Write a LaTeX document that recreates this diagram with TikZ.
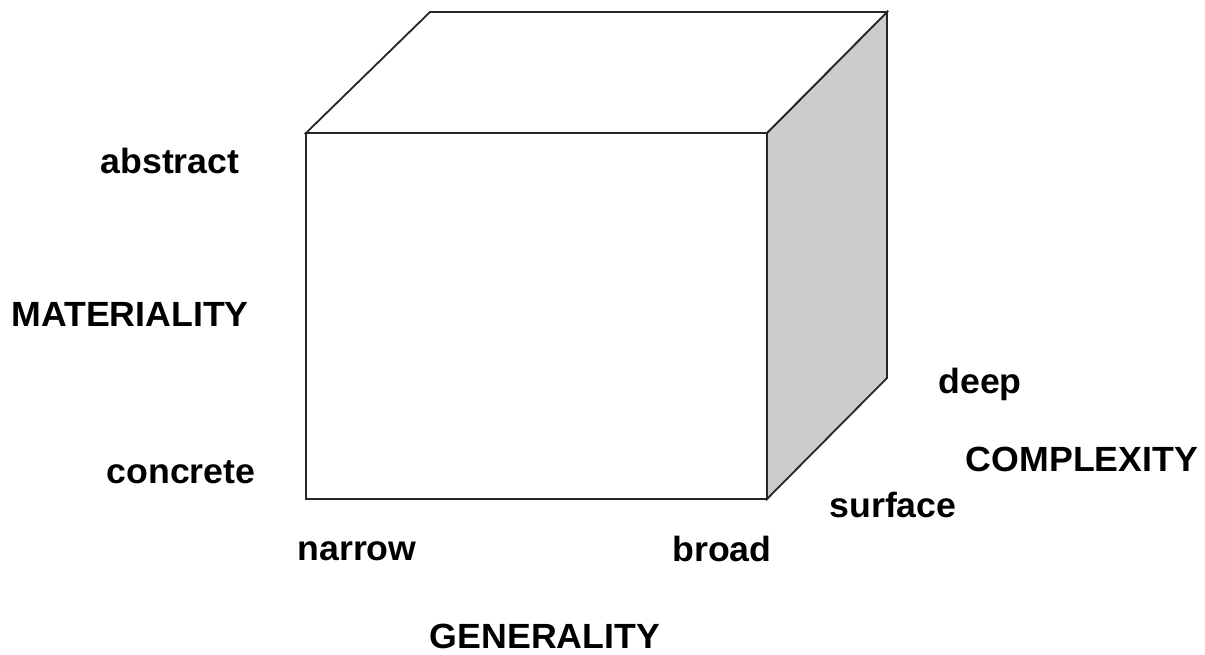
\documentclass[tikz,border=0pt]{standalone}
\usepackage{fontspec}
\setmainfont{Liberation Sans}[FakeStretch=1.02]
\begin{document}
\begin{tikzpicture}[x=1pt,y=-1pt,
  lbl/.style={font=\fontsize{35}{40}\selectfont\bfseries, inner sep=0pt, anchor=base},
  edge/.style={draw=black!85, line width=1.8pt, line join=miter}]
\useasboundingbox (0,0) rectangle (1205,655);
\fill[white] (0,0) rectangle (1205,655);
% cube corners
\coordinate (ftl) at (306,133);
\coordinate (ftr) at (767,133);
\coordinate (fbl) at (306,499);
\coordinate (fbr) at (767,499);
\coordinate (btl) at (430,12);
\coordinate (btr) at (887,12);
\coordinate (bbr) at (887,378);
% right face
\filldraw[edge, fill=black!20] (ftr) -- (btr) -- (bbr) -- (fbr) -- cycle;
% top face
\filldraw[edge, fill=white] (ftl) -- (btl) -- (btr) -- (ftr) -- cycle;
% front face
\filldraw[edge, fill=white] (ftl) -- (ftr) -- (fbr) -- (fbl) -- cycle;
% labels
\node[lbl] (abstract) at (170,174) {abstract};
\node[lbl] (materiality) at (130,326) {MATERIALITY};
\node[lbl] (concrete) at (181,483) {concrete};
\node[lbl] (narrow) at (357,560) {narrow};
\node[lbl] (broad) at (722,561) {broad};
\node[lbl] (generality) at (545,648) {GENERALITY};
\node[lbl] (deep) at (980,393) {deep};
\node[lbl] (complexity) at (1082,471) {COMPLEXITY};
\node[lbl] (surface) at (893,517) {surface};
\end{tikzpicture}
\end{document}
